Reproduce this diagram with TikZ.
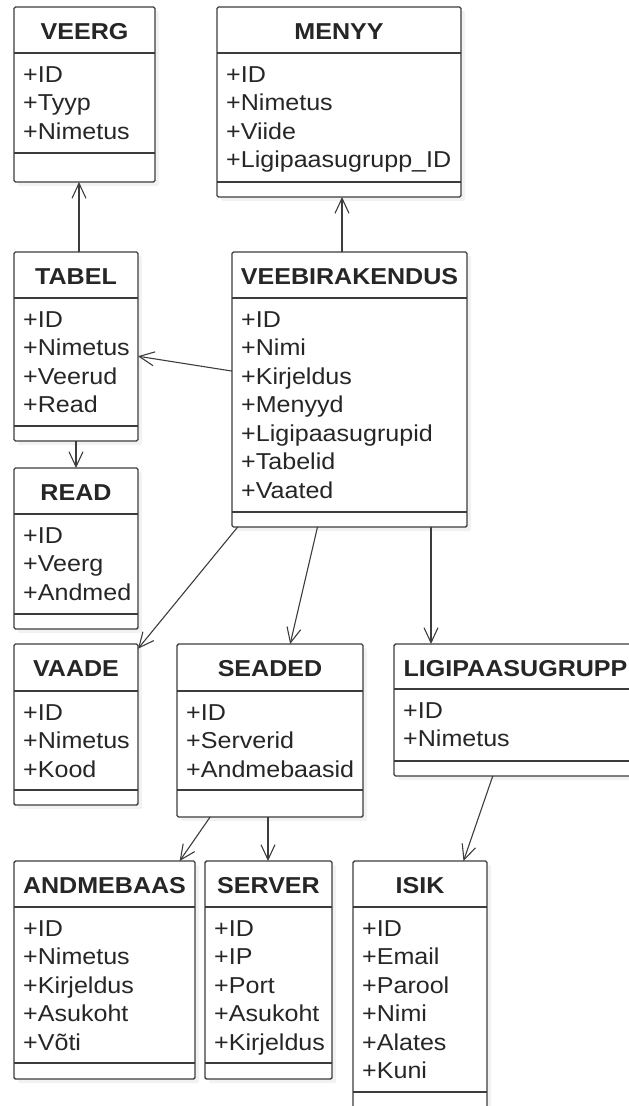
\documentclass[tikz,border=0pt]{standalone}
\usepackage{fontspec}
\setmainfont{Liberation Sans}[FakeStretch=1.09]
\usetikzlibrary{arrows.meta,shadows}

\definecolor{umlline}{HTML}{3C3C3C}
\definecolor{umltext}{HTML}{262626}

\tikzset{
  classbox/.style={draw=umlline, line width=1.4pt, fill=white, rounded corners=1.5pt,
    inner sep=0pt, outer sep=0pt,
    drop shadow={shadow xshift=4pt, shadow yshift=-4pt, opacity=0.1}},
  classline/.style={draw=umlline, line width=1.4pt},
  classtitle/.style={anchor=base, inner sep=0pt, text=umltext,
    font=\fontsize{23pt}{27pt}\selectfont\bfseries},
  classattr/.style={anchor=base west, inner sep=0pt, text=umltext,
    font=\fontsize{23pt}{27pt}\selectfont},
  assoc/.style={draw=umlline, line width=1.1pt, -{Straight Barb[length=15pt,width=14pt]}}
}

% name, left, top, right, header line, attribute line, bottom, title, attributes
\newcommand{\umlclass}[9]{%
  \node[classbox, anchor=north west, minimum width={(#4-#2)*1pt},
    minimum height={(#7-#3)*1pt}] (#1) at (#2,#3) {};
  \draw[classline] (#2,#5) -- (#4,#5);
  \draw[classline] (#2,#6) -- (#4,#6);
  \node[classtitle] (#1-title) at ({(#2+#4)/2},#3+32) {#8};
  \foreach \attrtxt [count=\i] in {#9}
    \node[classattr] (#1-\i) at (#2+9,{#5+29+(\i-1)*28.5}) {\attrtxt};
}

\begin{document}
\begin{tikzpicture}[x=1pt,y=-1pt]
\useasboundingbox (0,0) rectangle (629,1106);
\clip (0,0) rectangle (629,1106);

\umlclass{veerg}{14}{7}{155}{53}{153}{182}{VEERG}{+ID,+Tyyp,+Nimetus}
\umlclass{menyy}{217}{7}{461}{53}{182}{197}{MENYY}{+ID,+Nimetus,+Viide,+Ligipaasugrupp\_ID}
\umlclass{tabel}{14}{252}{138}{298}{426}{441}{TABEL}{+ID,+Nimetus,+Veerud,+Read}
\umlclass{veeb}{232}{252}{467}{298}{512}{527}{VEEBIRAKENDUS}{+ID,+Nimi,+Kirjeldus,+Menyyd,+Ligipaasugrupid,+Tabelid,+Vaated}
\umlclass{read}{14}{468}{138}{514}{614}{629}{READ}{+ID,+Veerg,+Andmed}
\umlclass{vaade}{14}{644}{138}{691}{790}{805}{VAADE}{+ID,+Nimetus,+Kood}
\umlclass{seaded}{177}{644}{363}{691}{790}{817}{SEADED}{+ID,+Serverid,+Andmebaasid}
\umlclass{ligi}{394}{644}{637}{689}{761}{776}{LIGIPAASUGRUPP}{+ID,+Nimetus}
\umlclass{andmebaas}{14}{861}{195}{907}{1063}{1079}{ANDMEBAAS}{+ID,+Nimetus,+Kirjeldus,+Asukoht,+Võti}
\umlclass{server}{205}{861}{332}{907}{1063}{1079}{SERVER}{+ID,+IP,+Port,+Asukoht,+Kirjeldus}
\umlclass{isik}{353}{861}{487}{907}{1092}{1114}{ISIK}{+ID,+Email,+Parool,+Nimi,+Alates,+Kuni}

\draw[assoc] (tabel.north -| 79,0) -- (veerg.south -| 79,0);
\draw[assoc] (veeb.north -| 342,0) -- (menyy.south -| 342,0);
\draw[assoc] (veeb) -- (tabel);
\draw[assoc] (tabel.south -| 76,0) -- (read.north -| 76,0);
\draw[assoc] (veeb) -- (vaade);
\draw[assoc] (veeb) -- (seaded);
\draw[assoc] (veeb.south -| 431,0) -- (ligi.north -| 431,0);
\draw[assoc] (seaded) -- (andmebaas);
\draw[assoc] (seaded.south -| 268,0) -- (server.north -| 268,0);
\draw[assoc] (ligi) -- (isik);
\end{tikzpicture}
\end{document}
